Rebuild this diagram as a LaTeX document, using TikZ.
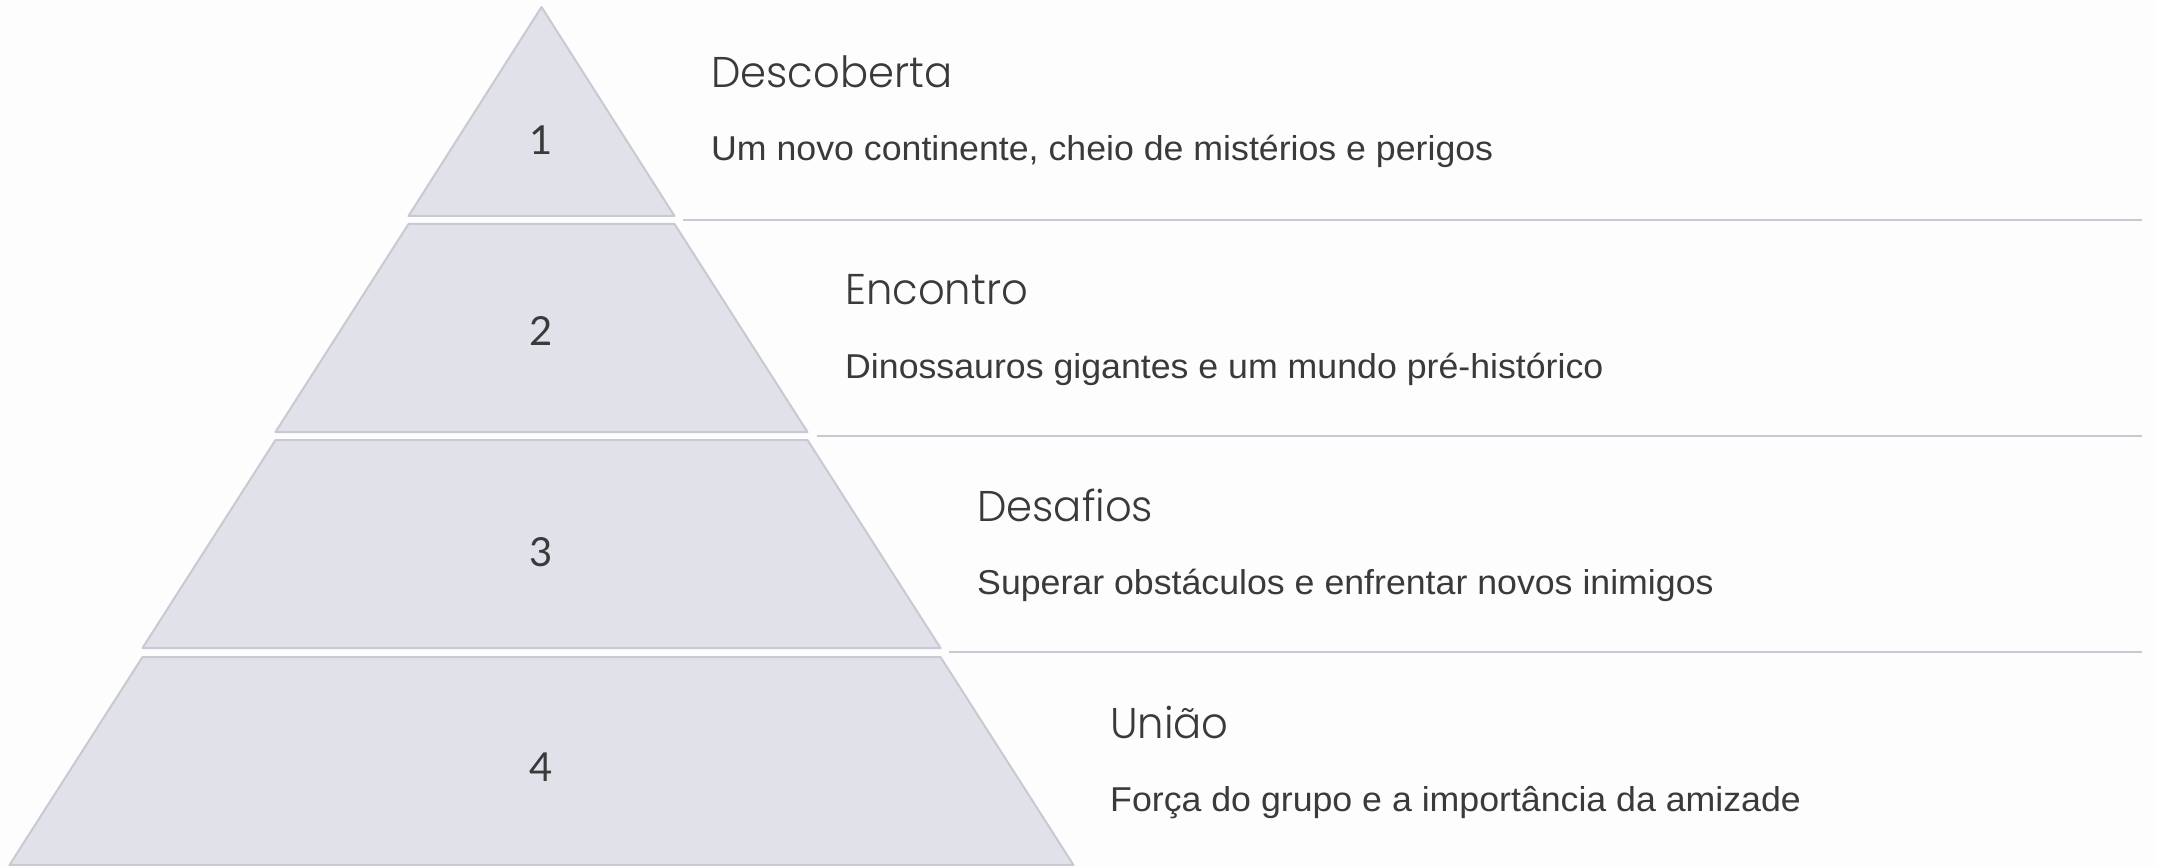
\documentclass[tikz,border=0pt]{standalone}
\usepackage{fontspec}
\setmainfont{Liberation Sans}
\newfontfamily\titlefont[FakeStretch=0.97]{Poppins Light}
\newfontfamily\numfont{Lato}
\newfontfamily\descfont[FakeStretch=1.035]{Liberation Sans}
\definecolor{bgc}{HTML}{FDFDFD}
\definecolor{tierfill}{HTML}{E1E2E9}
\definecolor{tierdraw}{HTML}{C8C9D2}
\definecolor{txt}{HTML}{3A3A3A}
\tikzset{
  tier/.style={fill=tierfill, draw=tierdraw, line width=2pt, line join=round},
  sepline/.style={draw=tierdraw, line width=2pt},
  num/.style={inner sep=0pt, text=txt, font=\numfont\fontsize{40}{46}\selectfont},
  ttl/.style={anchor=base west, inner sep=0pt, text=txt, font=\titlefont\fontsize{43}{50}\selectfont},
  dsc/.style={anchor=base west, inner sep=0pt, text=txt, font=\descfont\fontsize{34.5}{40}\selectfont},
}
\begin{document}
\begin{tikzpicture}[x=1pt,y=-1pt]
\useasboundingbox[fill=bgc] (0,0) rectangle (2157,866);
% tiers
\draw[tier] (541.5,7) -- (674.5,216) -- (408.5,216) -- cycle;
\draw[tier] (408.5,224) -- (674.5,224) -- (807.5,432) -- (275.5,432) -- cycle;
\draw[tier] (275.5,440) -- (807.5,440) -- (940.5,648) -- (142.5,648) -- cycle;
\draw[tier] (142.5,657) -- (940.5,657) -- (1073.5,865) -- (9.5,865) -- cycle;
% numbers
\node[num] (n1) at (541.5,140) {1};
\node[num] (n2) at (541.5,331) {2};
\node[num] (n3) at (541.5,552) {3};
\node[num] (n4) at (541.5,767) {4};
% separator lines
\coordinate (l1a) at (683,220); \coordinate (l1b) at (2142,220);
\coordinate (l2a) at (817,436); \coordinate (l2b) at (2142,436);
\coordinate (l3a) at (949,652); \coordinate (l3b) at (2142,652);
\draw[sepline] (l1a) -- (l1b);
\draw[sepline] (l2a) -- (l2b);
\draw[sepline] (l3a) -- (l3b);
% texts
\node[ttl] (t1) at (711,88) {Descoberta};
\node[dsc] (d1) at (711,161) {Um novo continente, cheio de mistérios e perigos};
\node[ttl] (t2) at (845,305) {Encontro};
\node[dsc] (d2) at (845,378) {Dinossauros gigantes e um mundo pré-histórico};
\node[ttl] (t3) at (977,521) {Desafios};
\node[dsc] (d3) at (977,594) {Superar obstáculos e enfrentar novos inimigos};
\node[ttl] (t4) at (1110,738) {União};
\node[dsc] (d4) at (1110,811) {Força do grupo e a importância da amizade};
\end{tikzpicture}
\end{document}
